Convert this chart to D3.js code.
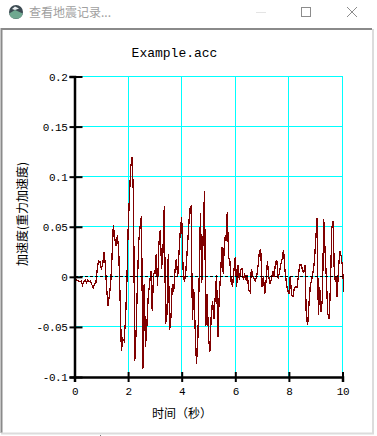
<!DOCTYPE html>
<html>
<head>
<meta charset="utf-8">
<script src="https://cdn.jsdelivr.net/npm/d3@7"></script>
<style>
  html, body { margin: 0; padding: 0; background: #fff; overflow: hidden; }
  svg { display: block; }
  .mono { font-family: "Liberation Mono", "DejaVu Sans Mono", monospace; }
  .cjk { font-family: "Noto Sans CJK SC", sans-serif; }
</style>
</head>
<body>
<div id="chart"></div>
<script>
const windowTitle = "查看地震记录...";
const chartTitle = "Example.acc";
const xLabel = "时间（秒）";
const yLabel = "加速度(重力加速度)";
const xTicks = [0, 2, 4, 6, 8, 10];
const yTicks = [-0.1, -0.05, 0, 0.05, 0.1, 0.15, 0.2];

// sample spacing
const sampleStep = 0.05;
// acceleration
const accel = [
  0, -0.002, -0.004, -0.004, -0.005, -0.004, -0.008, -0.005, -0.003, -0.006,
  -0.003, -0.005, -0.004, -0.008, -0.011, -0.007, -0.006, 0.008, 0.016, 0.015,
  0.008, 0.012, 0.025, 0.012, -0.012, -0.029, -0.019, -0.007, 0.02, 0.052,
  0.039, 0.031, 0.042, 0.026, -0.02, -0.074, -0.062, -0.064, -0.044, -0.01,
  0.046, 0.08, 0.11, 0.12, 0.08, -0.084, -0.054, -0.004, 0.036, 0.051,
  0.061, -0.092, -0.007, -0.07, -0.049, -0.02, -0.007, 0.006, -0.034, 0.003,
  0.003, 0.023, -0.009, 0.033, 0.047, 0.008, 0.025, 0.071, -0.047, -0.037,
  0.023, -0.053, -0.04, -0.007, -0.015, 0.006, 0.018, 0, 0.024, 0.047,
  0.06, 0.008, -0.005, 0.004, 0.024, 0.045, 0.068, 0.07, -0.043, -0.012,
  -0.05, -0.087, -0.065, -0.003, 0.064, -0.006, 0.04, 0.086, -0.049, -0.017,
  -0.06, -0.075, -0.04, -0.024, -0.042, -0.02, 0.002, -0.06, -0.02, 0.002,
  0.03, 0.003, 0.04, 0.036, 0.065, 0.02, 0.015, -0.007, -0.009, 0.007,
  0.02, -0.01, 0.012, -0.003, 0.007, 0.008, -0.003, 0.002, -0.003, 0.002,
  -0.013, -0.015, 0.008, 0.001, -0.002, -0.004, 0.001, 0.011, 0.026, 0.027,
  -0.01, 0.001, -0.017, -0.004, 0.016, 0, -0.007, -0.002, 0.006, 0,
  0.015, 0.016, -0.002, 0.005, 0.013, 0.018, 0.027, 0.008, -0.005, -0.013,
  -0.017, 0.001, -0.018, -0.02, -0.012, -0.01, -0.011, 0, 0.012, 0.012,
  0.008, 0.004, 0.012, -0.04, -0.048, -0.027, -0.008, -0.003, 0.005, 0.015,
  0.036, 0.059, -0.038, -0.01, -0.035, -0.022, 0.058, 0.026, -0.003, -0.037,
  -0.042, -0.01, 0.048, 0.056, -0.003, 0.001, -0.02, 0.008, 0.026, 0.021,
  0.01, -0.015
];

const width = 377, height = 436;
const margin = { top: 76.5, right: 35, bottom: 59, left: 74.5 };

const svg = d3.select("#chart").append("svg")
  .attr("width", width)
  .attr("height", height);

// window frame around the plot
svg.append("rect").attr("width", width).attr("height", height).attr("fill", "#fff");
svg.append("path")
  .attr("d", "M1.5 433V29H372")
  .attr("fill", "none")
  .attr("stroke", "#8a8a8a")
  .attr("stroke-width", 2);
svg.append("path")
  .attr("d", "M1 433.5H373V29")
  .attr("fill", "none")
  .attr("stroke", "#dcdcdc")
  .attr("stroke-width", 2);
svg.append("line")
  .attr("x1", 100.5).attr("x2", 100.5).attr("y1", 435).attr("y2", height)
  .attr("stroke", "#777");

// title bar
const icon = svg.append("g").attr("transform", "translate(16,12)");
icon.append("circle").attr("r", 7).attr("fill", "#3c4a52");
icon.append("path").attr("d", "M-6.8 1.5L-1 -2L6.8 1.5A7 7 0 0 1 -6.8 1.5Z").attr("fill", "#6fa890");
icon.append("path").attr("d", "M-4 -3L-1 -5.5L3 -3.5L-1 -2Z").attr("fill", "#e8eef0");
svg.append("text")
  .attr("class", "cjk")
  .attr("x", 29).attr("y", 17)
  .attr("font-size", 12)
  .attr("fill", "#a0a0a0")
  .text(windowTitle);
svg.append("line").attr("x1", 256).attr("x2", 266).attr("y1", 12.5).attr("y2", 12.5).attr("stroke", "#e4e4e4");
svg.append("rect").attr("x", 301.5).attr("y", 7.5).attr("width", 9).attr("height", 9).attr("fill", "none").attr("stroke", "#8c8c8c");
svg.append("path").attr("d", "M347 7L357 17M357 7L347 17").attr("stroke", "#8c8c8c").attr("fill", "none");

const x = d3.scaleLinear()
  .domain([0, 10])
  .range([margin.left, width - margin.right + 0.5]);

const y = d3.scaleLinear()
  .domain([-0.1, 0.2])
  .range([height - margin.bottom, margin.top]);

// 网格
const grid = svg.append("g")
  .attr("shape-rendering", "crispEdges")
  .attr("stroke", "#00ffff")
  .attr("stroke-width", 1);
grid.selectAll(".vgrid")
  .data(xTicks.slice(1))
  .enter()
  .append("line")
  .attr("x1", d => x(d)).attr("x2", d => x(d))
  .attr("y1", y(0.2)).attr("y2", y(-0.1));
grid.selectAll(".hgrid")
  .data(yTicks.slice(1))
  .enter()
  .append("line")
  .attr("x1", x(0)).attr("x2", x(10))
  .attr("y1", d => y(d)).attr("y2", d => y(d));

// 地震记录
const line = d3.line()
  .x((d, i) => x(i * sampleStep))
  .y(d => y(d));

svg.append("path")
  .datum(accel)
  .attr("d", line)
  .attr("fill", "none")
  .attr("stroke", "#800000")
  .attr("stroke-width", 1.3)
  .attr("shape-rendering", "crispEdges");

// 零线
svg.append("line")
  .attr("x1", x(0)).attr("x2", x(10))
  .attr("y1", y(0)).attr("y2", y(0))
  .attr("stroke", "#000")
  .attr("stroke-dasharray", "3,2")
  .attr("shape-rendering", "crispEdges");

// 坐标轴
const xAxis = svg.append("g")
  .attr("transform", `translate(0,${y(-0.1)})`)
  .call(d3.axisBottom(x).tickValues(xTicks).tickSize(5).tickPadding(5).tickFormat(d3.format("d")));
const yAxis = svg.append("g")
  .attr("transform", `translate(${x(0)},0)`)
  .call(d3.axisLeft(y).tickValues(yTicks).tickSize(5).tickPadding(2).tickFormat(d => d < 0 ? "-" + Math.abs(d) : String(d)));

[xAxis, yAxis].forEach(axis => {
  axis.attr("class", "mono").attr("font-size", 11).attr("font-family", null);
  axis.select(".domain").attr("stroke", "#000").attr("stroke-width", 2.5);
  axis.selectAll(".tick line").attr("stroke", "#000").attr("stroke-width", 2);
  axis.selectAll("text").attr("fill", "#000").attr("letter-spacing", -0.4);
});

// ticks also reach a little inside the plot
xAxis.selectAll(".tick line").attr("y1", -5);
yAxis.selectAll(".tick line").attr("x2", 8).attr("x1", -5);

svg.append("text")
  .attr("class", "mono")
  .attr("x", 174.5).attr("y", 57)
  .attr("text-anchor", "middle")
  .attr("font-size", 13)
  .text(chartTitle);

svg.append("text")
  .attr("class", "cjk")
  .attr("x", 152).attr("y", 418)
  .attr("font-size", 12)
  .text(xLabel);

svg.append("text")
  .attr("class", "cjk")
  .attr("transform", "translate(27,214) rotate(-90)")
  .attr("text-anchor", "middle")
  .attr("font-size", 12)
  .text(yLabel);
</script>
</body>
</html>
